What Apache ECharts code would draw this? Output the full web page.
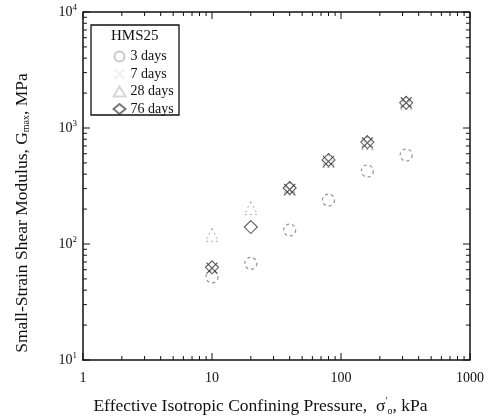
<!DOCTYPE html>
<html><head><meta charset="utf-8">
<script src="https://cdn.jsdelivr.net/npm/echarts@6/dist/echarts.min.js"></script>
<style>html,body{margin:0;padding:0;background:#fff}#c{width:496px;height:416px}</style>
</head><body><div id="c"></div>
<script>
const pressure = [10, 20, 40, 80, 160, 320];
const g3days  = [52, 68, 132, 239, 426, 585];
const g7days  = [62, null, 295, 515, 745, 1650];
const g28days = [120, 204, 300, 520, 745, 1650];
const g76days = [63, 140, 304, 530, 757, 1650];
const xTickLabels = [1, 10, 100, 1000];
const yTickLabels = [10, 100, 1000, 10000];

const FONT = '"Liberation Serif", "DejaVu Serif", serif';
const pairs = arr => pressure.map((p, i) => [p, arr[i] == null ? '-' : arr[i]]);
const crossPath = 'path://M0,0L10,10M10,0L0,10';

function ticksRender(params, api) {
  const children = [];
  const bl = api.coord([1, 10]);
  const tr = api.coord([1000, 10000]);
  const left = bl[0], bottom = bl[1], right = tr[0], top = tr[1];
  const st = {stroke: '#111', lineWidth: 1};
  const add = (x1, y1, x2, y2, s) => children.push({type: 'line', shape: {x1, y1, x2, y2}, style: s || st});
  const frame = {stroke: '#111', lineWidth: 1.5};
  add(left, top, right, top, frame);
  add(right, top, right, bottom, frame);
  for (let d = 1; d <= 1000; d *= 10) {
    for (let m = 1; m <= 9; m++) {
      const v = d * m;
      if (v > 1000) break;
      const x = api.coord([v, 10])[0];
      const len = m === 1 ? 7 : 4;
      add(x, bottom, x, bottom - len);
      add(x, top, x, top + len);
    }
  }
  for (let d = 10; d <= 10000; d *= 10) {
    for (let m = 1; m <= 9; m++) {
      const v = d * m;
      if (v > 10000) break;
      const y = api.coord([1, v])[1];
      const len = m === 1 ? 7 : 4;
      add(left, y, left + len, y);
      add(right, y, right - len, y);
    }
  }
  return {type: 'group', children};
}

const chart = echarts.init(document.getElementById('c'));
chart.setOption({
  animation: false,
  backgroundColor: '#fff',
  textStyle: {fontFamily: FONT},
  grid: {left: 83, right: 26, top: 12, bottom: 56, outerBoundsMode: 'none', containLabel: false},
  xAxis: {
    type: 'log', min: 1, max: 1000, logBase: 10,
    axisLine: {show: true, lineStyle: {color: '#111', width: 1.5}},
    axisTick: {show: false}, splitLine: {show: false},
    axisLabel: {fontFamily: FONT, fontSize: 14, color: '#111', margin: 11,
      formatter: v => xTickLabels.indexOf(Math.round(v)) >= 0 ? String(Math.round(v)) : ''},
    name: '{t|Effective Isotropic Confining Pressure,  σ}{p|′}{s|o}{t|, kPa}',
    nameLocation: 'middle', nameGap: 36,
    nameTextStyle: {padding: [0, 32, 0, 0], rich: {
      t: {fontFamily: FONT, fontSize: 17.5, color: '#111'},
      p: {fontFamily: FONT, fontSize: 10, color: '#111', verticalAlign: 'top', padding: [0,0,10,0]},
      s: {fontFamily: FONT, fontSize: 10, color: '#111', verticalAlign: 'bottom', padding: [8,0,0,0]}
    }}
  },
  yAxis: {
    type: 'log', min: 10, max: 10000, logBase: 10,
    axisLine: {show: true, lineStyle: {color: '#111', width: 1.5}},
    axisTick: {show: false}, splitLine: {show: false},
    axisLabel: {margin: 6,
      formatter: v => '{b|10}{e|' + Math.round(Math.log10(v)) + '}',
      rich: {
        b: {fontFamily: FONT, fontSize: 14, color: '#111'},
        e: {fontFamily: FONT, fontSize: 9, color: '#111', verticalAlign: 'top', padding: [0,0,9,0]}
      }},
    name: '{t|Small-Strain Shear Modulus, G}{s|max}{t|, MPa}',
    nameLocation: 'middle', nameGap: 52, nameRotate: 90,
    nameTextStyle: {padding: [0, 54, 0, 0], rich: {
      t: {fontFamily: FONT, fontSize: 17.5, color: '#111'},
      s: {fontFamily: FONT, fontSize: 10, color: '#111', verticalAlign: 'bottom', padding: [8,0,0,0]}
    }}
  },
  legend: {
    left: 106, top: 44, orient: 'vertical', itemGap: 2.5, itemWidth: 12, itemHeight: 10,
    textStyle: {fontFamily: FONT, fontSize: 14, color: '#111'},
    data: [
      {name: '3 days', itemStyle: {borderColor: '#bbb'}},
      {name: '7 days', itemStyle: {borderColor: '#eee'}},
      {name: '28 days', itemStyle: {borderColor: '#ccc'}},
      {name: '76 days', itemStyle: {borderColor: '#555'}}
    ]
  },
  graphic: [
    {type: 'rect', shape: {x: 91, y: 25, width: 88, height: 90}, style: {fill: 'none', stroke: '#111', lineWidth: 1.3}, z: 10},
    {type: 'text', left: 111, top: 29, style: {text: 'HMS25', font: '15px ' + FONT, fill: '#111'}, z: 10}
  ],
  series: [
    {type: 'custom', renderItem: ticksRender, data: [[1, 10]], silent: true, z: 5, legendHoverLink: false},
    {name: '3 days', type: 'scatter', data: pairs(g3days), symbol: 'circle', symbolSize: 12,
      itemStyle: {color: 'none', borderColor: '#777', borderWidth: 1.2, borderType: [3, 3]}},
    {name: '7 days', type: 'scatter', data: pairs(g7days), symbol: crossPath, symbolSize: 11,
      itemStyle: {color: 'none', borderColor: '#333', borderWidth: 1.2}},
    {name: '28 days', type: 'scatter', data: pairs(g28days), symbol: 'triangle', symbolSize: 13,
      itemStyle: {color: 'none', borderColor: '#999', borderWidth: 1, borderType: [2, 3]}},
    {name: '76 days', type: 'scatter', data: pairs(g76days), symbol: 'diamond', symbolSize: [13, 13],
      itemStyle: {color: 'none', borderColor: '#333', borderWidth: 1.1}}
  ]
});
</script></body></html>
